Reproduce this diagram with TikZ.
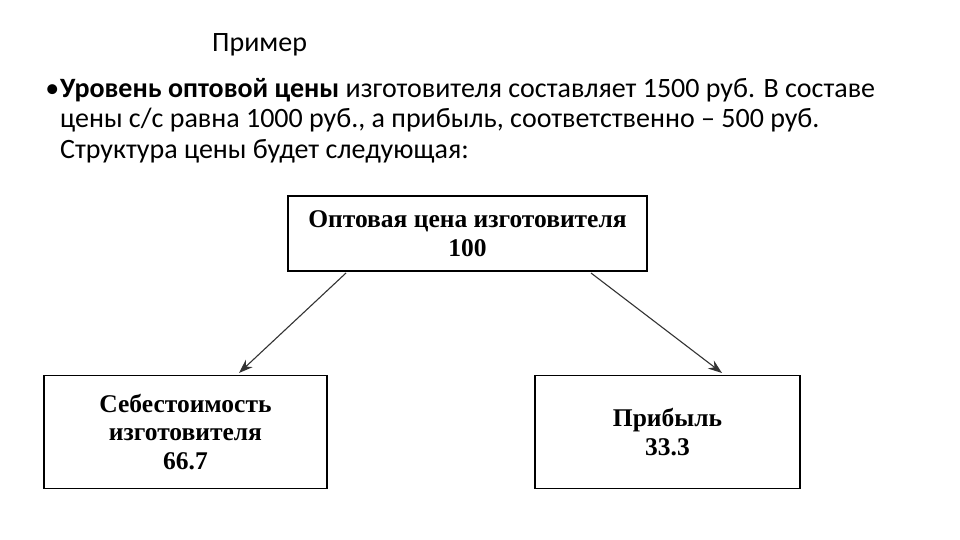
\documentclass[tikz,border=0pt]{standalone}
\usepackage{fontspec}
\setmainfont{Carlito}
\newfontfamily\boxfont{Liberation Serif}
\usetikzlibrary{arrows.meta}
\begin{document}
\begin{tikzpicture}[x=1pt,y=-1pt,
  boxst/.style={draw=black,line width=1.8pt,fill=white,inner sep=0pt,align=center,
     font=\boxfont\bfseries\fontsize{25.5}{28.5}\selectfont},
  arr/.style={draw=black!80,line width=1.1pt,-{Stealth[length=14pt,width=10pt]}},
  txt/.style={inner sep=0pt,anchor=base west}]
\useasboundingbox (0,0) rectangle (960,540);
\fill[white] (0,0) rectangle (960,540);
\node[txt,font=\fontsize{28}{30}\selectfont] (title) at (212,52) {Пример};
\node[txt,align=left,anchor=north west,font=\fontsize{28}{30.5}\selectfont] (body) at (60,78)
 {\makebox[0pt][r]{•\hspace{1pt}}\textbf{Уровень оптовой цены} изготовителя составляет 1500 руб. В составе\\
 цены с/с равна 1000 руб., а прибыль, соответственно – 500 руб.\\
 Структура цены будет следующая:};
\node[boxst,minimum width=359pt,minimum height=75pt] (top) at (467.5,233.5)
 {Оптовая цена изготовителя\\100};
\node[boxst,minimum width=283pt,minimum height=113pt] (left) at (185.5,432)
 {Себестоимость\\изготовителя\\66.7};
\node[boxst,minimum width=265pt,minimum height=113pt] (right) at (667.5,432)
 {Прибыль\\33.3};
\coordinate (ls) at (346,273);
\coordinate (le) at (239,373);
\coordinate (rs) at (591,273);
\coordinate (re) at (722,373);
\draw[arr] (ls) -- (le);
\draw[arr] (rs) -- (re);
\end{tikzpicture}
\end{document}
